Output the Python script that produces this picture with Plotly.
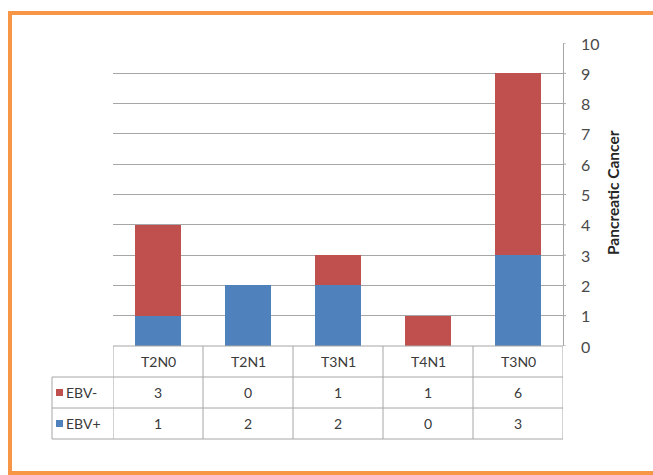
import plotly.graph_objects as go

# Tumour stage categories and case counts per EBV status
categories = ["T2N0", "T2N1", "T3N1", "T4N1", "T3N0"]
ebv_pos = [1, 2, 2, 0, 3]
ebv_neg = [3, 0, 1, 1, 6]
y_ticks = list(range(0, 11))
axis_title = "Pancreatic Cancer"

W, H = 653, 475
BLUE = "#4F81BD"
RED = "#C0504D"
GRID = "#A6A6A6"
TEXT = "#3A3A3A"
FONT = "Lato, 'Open Sans', sans-serif"


def px_x(x):
    return x / W


def px_y(y):
    return (H - y) / H


fig = go.Figure()
fig.add_bar(x=categories, y=ebv_pos, name="EBV+", marker=dict(color=BLUE, line_width=0))
fig.add_bar(x=categories, y=ebv_neg, name="EBV-", marker=dict(color=RED, line_width=0))

shapes = []
annotations = []

# data table underneath the plot
row_edges = [346, 377, 408, 439]
n = len(categories)
shapes.append(dict(type="line", xref="x", yref="paper", x0=-0.5, x1=n - 0.5,
                   y0=px_y(row_edges[0]), y1=px_y(row_edges[0]), line=dict(color=GRID, width=1)))
for ye in row_edges[1:]:
    shapes.append(dict(type="line", xref="paper", yref="paper", x0=px_x(52), x1=px_x(563),
                       y0=px_y(ye), y1=px_y(ye), line=dict(color=GRID, width=1)))
for i in range(n + 1):
    shapes.append(dict(type="line", xref="x", yref="paper", x0=i - 0.5, x1=i - 0.5,
                       y0=px_y(row_edges[0]), y1=px_y(row_edges[-1]), line=dict(color=GRID, width=1)))
shapes.append(dict(type="line", xref="paper", yref="paper", x0=px_x(52), x1=px_x(52),
                   y0=px_y(row_edges[1]), y1=px_y(row_edges[-1]), line=dict(color=GRID, width=1)))

# value labels and short tick marks on the right-hand axis
for t in y_ticks:
    shapes.append(dict(type="line", xref="paper", yref="y", x0=px_x(563), x1=px_x(566),
                       y0=t, y1=t, line=dict(color=GRID, width=1)))
    annotations.append(dict(x=px_x(579), xref="paper", y=t, yref="y", text=str(t), showarrow=False,
                            xanchor="left", yanchor="middle",
                            font=dict(family=FONT, size=16, color="#4A4A4A")))

cell_font = dict(family=FONT, size=14, color=TEXT)
rows = [("EBV-", ebv_neg, RED), ("EBV+", ebv_pos, BLUE)]
for c in categories:
    yc = (row_edges[0] + row_edges[1]) / 2
    annotations.append(dict(x=c, xref="x", y=px_y(yc), yref="paper", text=c, showarrow=False,
                            xanchor="center", yanchor="middle", font=cell_font))
for r, (label, vals, col) in enumerate(rows):
    top, bot = row_edges[r + 1], row_edges[r + 2]
    yc = (top + bot) / 2
    shapes.append(dict(type="rect", xref="paper", yref="paper", x0=px_x(56), x1=px_x(63),
                       y0=px_y(yc + 3.5), y1=px_y(yc - 3.5), fillcolor=col, line_width=0))
    annotations.append(dict(x=px_x(64), xref="paper", y=px_y(yc), yref="paper", text=label,
                            xanchor="left", yanchor="middle", showarrow=False, font=cell_font))
    for c, v in zip(categories, vals):
        annotations.append(dict(x=c, xref="x", y=px_y(yc), yref="paper", text=str(v), showarrow=False,
                                xanchor="center", yanchor="middle", font=cell_font))

# rotated axis title
annotations.append(dict(x=px_x(613), xref="paper", y=px_y(193), yref="paper", text="<b>" + axis_title + "</b>",
                        textangle=-90, showarrow=False, xanchor="center", yanchor="middle",
                        font=dict(family=FONT, size=15.5, color="#262626")))

# orange frame
shapes.append(dict(type="rect", xref="paper", yref="paper", x0=px_x(10), x1=px_x(670),
                   y0=px_y(473), y1=px_y(13), line=dict(color="#F79646", width=4), layer="above"))

fig.update_layout(
    width=W, height=H,
    margin=dict(l=0, r=0, t=0, b=0, autoexpand=False),
    paper_bgcolor="white", plot_bgcolor="white",
    barmode="stack", bargap=0.49,
    showlegend=False,
    shapes=shapes, annotations=annotations,
    xaxis=dict(domain=[px_x(113), px_x(563)], range=[-0.5, n - 0.5], showticklabels=False,
               showgrid=False, zeroline=False, showline=False, ticks="", automargin=False),
    yaxis=dict(domain=[px_y(346), px_y(43)], range=[0, 10], side="right", tickvals=y_ticks,
               showgrid=True, gridcolor=GRID, gridwidth=1, zeroline=False, automargin=False,
               showline=True, linecolor=GRID, linewidth=1, ticks="", showticklabels=False),
)

fig.write_html("out.html")
